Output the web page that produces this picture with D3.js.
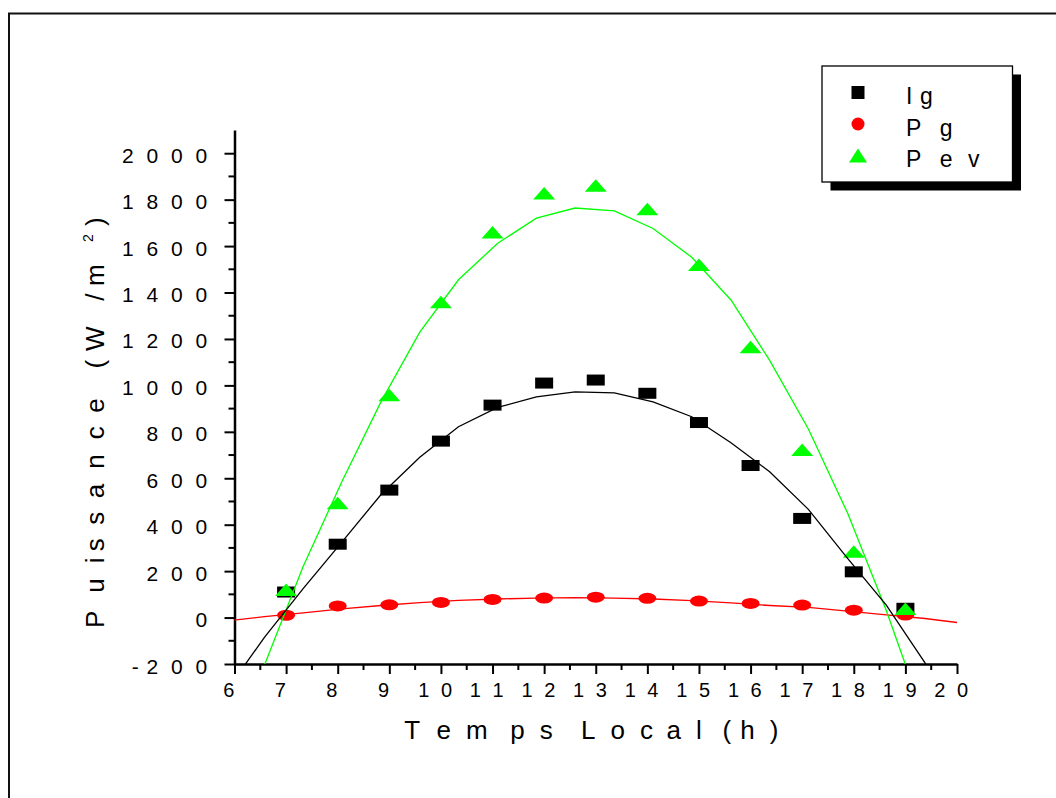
<!DOCTYPE html>
<html>
<head>
<meta charset="utf-8">
<script src="https://cdn.jsdelivr.net/npm/d3@7"></script>
<style>
  html, body { margin: 0; padding: 0; background: #fff; }
  svg { display: block; }
  text { font-family: "Liberation Sans", Arial, sans-serif; fill: #000; white-space: pre; }
</style>
</head>
<body>
<svg id="chart" width="1056" height="798"></svg>
<script>
// Measured hours of the day
const hours = [7, 8, 9, 10, 11, 12, 13, 14, 15, 16, 17, 18, 19];
// Global irradiance Ig (W/m2)
const igValues = [110, 316, 549, 760, 915, 1010, 1023, 966, 840, 655, 427, 197, 40];
// Power Pg (W/m2)
const pgValues = [10, 50, 55, 65, 78, 84, 88, 83, 71, 61, 54, 32, 11];
// Power Pev (W/m2)
const pevValues = [120, 493, 959, 1359, 1660, 1828, 1861, 1760, 1520, 1165, 723, 285, 38];

// Fitted curves, sampled at these hours
const fitHours = [5.83, 6.58, 7.33, 8.08, 8.84, 9.59, 10.34, 11.10, 11.85, 12.60,
                  13.36, 14.11, 14.86, 15.62, 16.37, 17.12, 17.88, 18.63, 19.38, 20.14];
const igFit  = [-320, -85, 125, 325, 530, 690, 822, 905, 951, 972,
                968, 929, 865, 753, 628, 466, 255, 54, -195, -480];
const pgFit  = [-15, 4, 20, 37, 52, 64, 74, 80, 84, 86,
                84, 80, 73, 63, 52, 44, 28, 12, -4, -25];
const pevFit = [-700, -205, 220, 585, 930, 1229, 1455, 1612, 1720, 1764,
                1752, 1676, 1552, 1368, 1108, 812, 450, 30, -440, -1000];

// Axis ticks and labels
const xTicks = [6, 7, 8, 9, 10, 11, 12, 13, 14, 15, 16, 17, 18, 19, 20];
const xMinorTicks = [6.5, 7.5, 8.5, 9.5, 10.5, 11.5, 12.5, 13.5, 14.5, 15.5, 16.5, 17.5, 18.5, 19.5];
const yTicks = [-200, 0, 200, 400, 600, 800, 1000, 1200, 1400, 1600, 1800, 2000];
const yMinorTicks = [-100, 100, 300, 500, 700, 900, 1100, 1300, 1500, 1700, 1900];
const xTickLabels = ["6", "7", "8", "9", "10", "11", "12", "13", "14", "15", "16", "17", "18", "19", "20"];
const yTickLabels = ["-200", "0", "200", "400", "600", "800", "1000", "1200", "1400", "1600", "1800", "2000"];

const seriesNames = ["Ig", "Pg", "Pev"];
const xTitle = "Temps Local (h)";
const yTitleMain = "Puissance (W/m";
const yTitleSup = "2";
const yTitleEnd = ")";

const BLACK = "#000000", RED = "#ff0000", GREEN = "#00ff00";

const svg = d3.select("#chart");

const x = d3.scaleLinear().domain([6, 20]).range([234.5, 957]);
const y = d3.scaleLinear().domain([-200, 2100]).range([664, 130]);

// Wide-spaced text: each glyph advance is its natural width times a factor
const measureCtx = document.createElement("canvas").getContext("2d");
function advances(str, size, factor) {
  measureCtx.font = size + 'px "Liberation Sans", Arial, sans-serif';
  return Array.from(str).map(c => measureCtx.measureText(c).width * factor);
}
function positions(str, size, factor, start) {
  const adv = advances(str, size, factor);
  const xs = [];
  let cur = start;
  adv.forEach(a => { xs.push(cur); cur += a; });
  return { xs, end: cur, total: d3.sum(adv) };
}
function spacedText(parent, str, opts) {
  const { x0, y0, size, factor, anchor = "start" } = opts;
  const total = d3.sum(advances(str, size, factor));
  const start = anchor === "middle" ? x0 - total / 2 : anchor === "end" ? x0 - total : x0;
  const p = positions(str, size, factor, start);
  return parent.append("text")
    .attr("x", p.xs.join(" "))
    .attr("y", y0)
    .attr("font-size", size)
    .text(str);
}

// Outer frame
svg.append("rect")
  .attr("x", 9).attr("y", 13.5)
  .attr("width", 1100).attr("height", 820)
  .attr("fill", "none").attr("stroke", "#111").attr("stroke-width", 2);

// Clip region for the fitted curves
svg.append("defs").append("clipPath").attr("id", "plot-clip")
  .append("rect")
  .attr("x", x(6)).attr("y", y(2100))
  .attr("width", x(20) - x(6)).attr("height", y(-200) - y(2100));

// Axes
const axisStroke = 2.5;
const xAxis = svg.append("g").attr("transform", `translate(0,${y(-200)})`)
  .call(d3.axisBottom(x).tickValues(xTicks).tickSize(10).tickSizeOuter(0).tickFormat(""));
xAxis.append("g").selectAll("line").data(xMinorTicks).join("line")
  .attr("x1", d => x(d)).attr("x2", d => x(d)).attr("y1", 0).attr("y2", 6)
  .attr("stroke", BLACK);

const yAxis = svg.append("g").attr("transform", `translate(${x(6)},0)`)
  .call(d3.axisLeft(y).tickValues(yTicks).tickSize(10).tickSizeOuter(0).tickFormat(""));
yAxis.append("g").selectAll("line").data(yMinorTicks).join("line")
  .attr("y1", d => y(d)).attr("y2", d => y(d)).attr("x1", 0).attr("x2", -6)
  .attr("stroke", BLACK);

[xAxis, yAxis].forEach(a => {
  a.select(".domain").attr("stroke", BLACK).attr("stroke-width", axisStroke);
  a.selectAll("line").attr("stroke", BLACK).attr("stroke-width", 2);
});

// Tick labels
const xLabelG = svg.append("g");
xTicks.forEach((t, i) => {
  spacedText(xLabelG, xTickLabels[i], { x0: x(t), y0: y(-200) + 33, size: 20, factor: 2.04, anchor: "middle" });
});
const yLabelG = svg.append("g");
yTicks.forEach((t, i) => {
  spacedText(yLabelG, yTickLabels[i], { x0: 220, y0: y(t) + 9.5, size: 21, factor: 2.1, anchor: "end" });
});

// Axis titles
spacedText(svg, xTitle, { x0: (x(6) + x(20)) / 2, y0: 739, size: 26, factor: 2.04, anchor: "middle" });

const yTitleG = svg.append("g").attr("transform", "translate(104,628) rotate(-90)");
const yTitle = yTitleG.append("text").attr("y", 0).attr("font-size", 26);
const pMain = positions(yTitleMain, 26, 2.04, 0);
yTitle.append("tspan").attr("x", pMain.xs.join(" ")).text(yTitleMain);
const pSup = positions(yTitleSup, 14, 2.04, pMain.end);
yTitle.append("tspan").attr("x", pSup.xs.join(" ")).attr("dy", -11).attr("font-size", 14).text(yTitleSup);
yTitle.append("tspan").attr("x", pSup.end).attr("dy", 11).text(yTitleEnd);

// Scatter markers
const marks = svg.append("g");
marks.selectAll("rect.ig").data(hours).join("rect").attr("class", "ig")
  .attr("x", (d) => x(d) - 9).attr("y", (d, i) => y(igValues[i]) - 5.5)
  .attr("width", 18).attr("height", 11).attr("fill", BLACK);
marks.selectAll("ellipse.pg").data(hours).join("ellipse").attr("class", "pg")
  .attr("cx", d => x(d)).attr("cy", (d, i) => y(pgValues[i]))
  .attr("rx", 9).attr("ry", 5.5).attr("fill", RED);
const tri = (cx, cy, w, h) => `M${cx},${cy - h / 2}L${cx + w / 2},${cy + h / 2}L${cx - w / 2},${cy + h / 2}Z`;
marks.selectAll("path.pev").data(hours).join("path").attr("class", "pev")
  .attr("d", (d, i) => tri(x(d), y(pevValues[i]), 22, 12.5)).attr("fill", GREEN);

// Fitted curves
const fitLine = vals => d3.line().x((d, i) => x(fitHours[i])).y((d, i) => y(vals[i]))(vals);
const fits = svg.append("g").attr("clip-path", "url(#plot-clip)");
[[pgFit, RED], [pevFit, GREEN], [igFit, BLACK]].forEach(([vals, col]) => {
  fits.append("path").attr("d", fitLine(vals))
    .attr("fill", "none").attr("stroke", col).attr("stroke-width", 1.3);
});

// Legend
const legend = svg.append("g");
legend.append("rect").attr("x", 830.5).attr("y", 74.5).attr("width", 190.5).attr("height", 116).attr("fill", BLACK);
legend.append("rect").attr("x", 822).attr("y", 66).attr("width", 190.5).attr("height", 116)
  .attr("fill", "#fff").attr("stroke", BLACK).attr("stroke-width", 1.3);
const legendRows = [104, 135.5, 167];
legend.append("rect").attr("x", 858 - 6.5).attr("y", legendRows[0] - 11.5 - 6.5).attr("width", 13).attr("height", 13).attr("fill", BLACK);
legend.append("circle").attr("cx", 858).attr("cy", legendRows[1] - 11.5).attr("r", 6.5).attr("fill", RED);
legend.append("path").attr("d", tri(858, legendRows[2] - 11.5, 18, 14)).attr("fill", GREEN);
seriesNames.forEach((name, i) => {
  spacedText(legend, name, { x0: 906, y0: legendRows[i], size: 23, factor: 2.2 });
});
</script>
</body>
</html>
